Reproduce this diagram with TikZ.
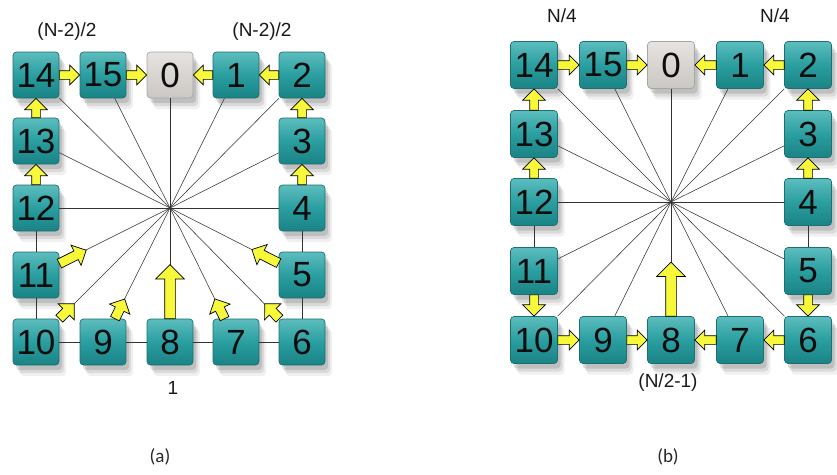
\documentclass[tikz,border=0pt]{standalone}
\usepackage{fontspec}
\setmainfont{Liberation Sans}
\newfontfamily\capfont{Carlito}
\usetikzlibrary{calc,shadows,shapes.arrows}
\definecolor{tealtop}{HTML}{5DBDBE}
\definecolor{tealmid}{HTML}{2A9EA0}
\definecolor{tealbot}{HTML}{1A8385}
\definecolor{tealedge}{HTML}{1D6F71}
\definecolor{greytop}{HTML}{E6E3E0}
\definecolor{greybot}{HTML}{CBC7C2}
\definecolor{arrowyellow}{HTML}{F8F83A}
\tikzset{
  boxbase/.style={rectangle, rounded corners=3.5pt, draw=tealedge, line width=0.7pt,
    text=black!95, font=\fontsize{35}{35}\selectfont, inner sep=0pt,
    drop shadow={shadow xshift=7pt, shadow yshift=-11pt, opacity=0.06, fill=black},
    drop shadow={shadow xshift=5pt, shadow yshift=-8pt, opacity=0.09, fill=black},
    drop shadow={shadow xshift=3pt, shadow yshift=-5pt, opacity=0.12, fill=black}},
  tbox/.style={boxbase, top color=tealtop, bottom color=tealbot, middle color=tealmid},
  gbox/.style={boxbase, draw=black!35, top color=greytop, bottom color=greybot},
  boxa/.style={minimum width=46pt, minimum height=46pt},
  boxb/.style={minimum width=47pt, minimum height=47pt},
  spoke/.style={draw=black!80, line width=0.55pt},
  yarrowshape/.style={single arrow, draw=black, fill=arrowyellow, line width=0.7pt,
    inner xsep=0pt, inner ysep=4pt, outer sep=0pt, minimum width=0pt,
    single arrow head extend=5.5pt, single arrow tip angle=90, shape border uses incircle=false},
  diag/.style={inner ysep=4.5pt, single arrow head extend=6.5pt},
  lbl/.style={font=\fontsize{19}{19}\selectfont, text=black!90},
  captext/.style={font=\capfont\fontsize{19}{19}\selectfont, text=black!85},
}
% block arrow from #2 to #3
\newcommand\yarr[3][]{\path let \p1=(#2), \p2=(#3), \n1={atan2(\y2-\y1,\x2-\x1)},
  \n2={veclen(\x2-\x1,\y2-\y1)} in
  node[yarrowshape, minimum height={\n2*1pt}, rotate=\n1, anchor=tail, #1] at (\p1) {};}
% block arrow starting on border of node #2 towards #3, of length #4
\newcommand\yarrto[4][]{\path let \p1=(#2.center), \p2=(#3), \n1={atan2(\y2-\y1,\x2-\x1)} in
  node[yarrowshape, minimum height=#4, rotate=\n1, anchor=tail, #1] at (#2.\n1) {};}
\begin{document}
\begin{tikzpicture}[x=1pt,y=-1pt]
\useasboundingbox (0,0) rectangle (837,474);
% ================= panel (a) =================
\coordinate (ca) at (170,208);
\foreach \n/\x/\y in {14/36/75, 15/103/75, 1/236/75, 2/302/75,
   13/36/141, 3/302/141, 12/36/208, 4/302/208, 11/36/275, 5/302/275,
   10/36/342, 9/103/342, 8/170/342, 7/236/342, 6/302/342}
  \node[tbox, boxa] (a\n) at (\x,\y) {\n};
\node[gbox, boxa] (a0) at (170,75) {0};
% side connectors
\draw[spoke] (a12) -- (a11); \draw[spoke] (a11) -- (a10);
\draw[spoke] (a10) -- (a9); \draw[spoke] (a9) -- (a8);
\draw[spoke] (a8) -- (a7); \draw[spoke] (a7) -- (a6);
\draw[spoke] (a6) -- (a5); \draw[spoke] (a5) -- (a4);
% spokes
\foreach \n in {0,...,15} \draw[spoke] (ca) -- (a\n);
% arrows top row and sides
\yarr{a14.east}{a15.west}
\yarr{a15.east}{a0.west}
\yarr{a1.west}{a0.east}
\yarr{a2.west}{a1.east}
\yarr[single arrow head extend=7pt]{a13.north}{a14.south}
\yarr[single arrow head extend=7pt]{a12.north}{a13.south}
\yarr[single arrow head extend=7pt]{a3.north}{a2.south}
\yarr[single arrow head extend=7pt]{a4.north}{a3.south}
% arrows towards centre
\yarrto[diag]{a11}{ca}{30pt}
\yarrto[diag]{a10}{ca}{21pt}
\yarrto[diag]{a9}{ca}{22pt}
\yarrto[diag]{a7}{ca}{22pt}
\yarrto[diag]{a6}{ca}{21pt}
\yarrto[diag]{a5}{ca}{30pt}
\yarrto[inner ysep=5pt, single arrow head extend=9pt]{a8}{ca}{54pt}
% labels
\node[lbl] (la1) at (67,32) {(N-2)/2};
\node[lbl] (la2) at (262,32) {(N-2)/2};
\node[lbl] (la3) at (173,388) {1};
\node[captext] (capa) at (160,457) {(a)};
% ================= panel (b) =================
\coordinate (cb) at (671,202);
\foreach \n/\x/\y in {14/534/65, 15/603/65, 1/740/65, 2/808/65,
   13/534/134, 3/808/134, 12/534/202, 4/808/202, 11/534/271, 5/808/271,
   10/534/340, 9/603/340, 8/671/340, 7/740/340, 6/808/340}
  \node[tbox, boxb] (b\n) at (\x,\y) {\n};
\node[gbox, boxb] (b0) at (671,65) {0};
\draw[spoke] (b12) -- (b11); \draw[spoke] (b5) -- (b4);
\foreach \n in {0,...,15} \draw[spoke] (cb) -- (b\n);
\yarr{b14.east}{b15.west}
\yarr{b15.east}{b0.west}
\yarr{b1.west}{b0.east}
\yarr{b2.west}{b1.east}
\yarr[single arrow head extend=7pt]{b13.north}{b14.south}
\yarr[single arrow head extend=7pt]{b12.north}{b13.south}
\yarr[single arrow head extend=7pt]{b3.north}{b2.south}
\yarr[single arrow head extend=7pt]{b4.north}{b3.south}
\yarr[single arrow head extend=7pt]{b11.south}{b10.north}
\yarr[single arrow head extend=7pt]{b5.south}{b6.north}
\yarr{b10.east}{b9.west}
\yarr{b9.east}{b8.west}
\yarr{b7.west}{b8.east}
\yarr{b6.west}{b7.east}
\yarrto[inner ysep=5pt, single arrow head extend=9pt]{b8}{cb}{54pt}
\node[lbl] (lb1) at (562,16) {N/4};
\node[lbl] (lb2) at (775,16) {N/4};
\node[lbl] (lb3) at (668,383) {(N/2-1)};
\node[captext] (capb) at (668,457) {(b)};
\end{tikzpicture}
\end{document}
